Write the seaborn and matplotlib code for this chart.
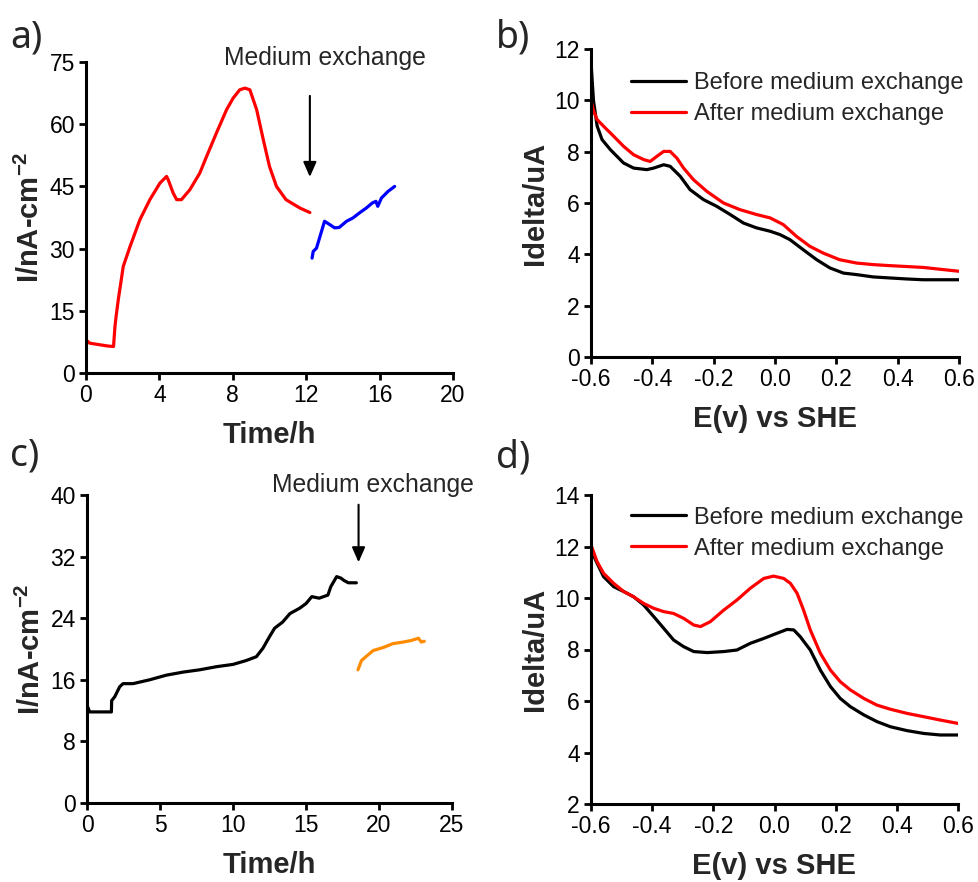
import numpy as np
import pandas as pd
import matplotlib
matplotlib.use("Agg")
import matplotlib.pyplot as plt
import seaborn as sns

# ---- data -------------------------------------------------------------
# (a) chronoamperometry, first run
a_before_t = [0.0, 0.2, 0.76, 1.2, 1.5, 1.58, 1.65, 1.76, 2.03, 2.4, 2.94, 3.48, 4.03, 4.39,
              4.48, 4.75, 4.94, 5.2, 5.66, 6.2, 6.57, 7.11, 7.66, 8.02, 8.38, 8.66, 8.93,
              9.3, 9.66, 10.0, 10.38, 10.9, 11.65, 12.2]
a_before_i = [8.0, 7.2, 6.8, 6.5, 6.4, 11.3, 14.0, 17.7, 25.7, 30.5, 37.0, 41.8, 45.8, 47.4,
              46.6, 43.4, 41.8, 41.8, 44.2, 48.2, 52.2, 57.9, 63.5, 66.3, 68.3, 68.7, 68.3,
              63.5, 56.3, 49.8, 45.0, 41.8, 39.8, 38.7]
a_after_t = [12.32, 12.38, 12.56, 13.0, 13.28, 13.55, 13.8, 14.2, 14.55, 14.9, 15.28, 15.6,
             15.8, 15.9, 16.1, 16.46, 16.82]
a_after_i = [27.7, 29.3, 30.1, 36.6, 35.8, 35.0, 35.1, 36.6, 37.4, 38.6, 39.8, 41.0,
             41.4, 40.2, 42.2, 43.8, 45.0]

# (b) DPV, first run
b_before_e = [-0.6, -0.592, -0.58, -0.564, -0.537, -0.494, -0.461, -0.418, -0.396, -0.363,
              -0.342, -0.309, -0.277, -0.233, -0.19, -0.146, -0.103, -0.06, -0.016, 0.016,
              0.049, 0.092, 0.136, 0.179, 0.223, 0.266, 0.32, 0.374, 0.43, 0.483, 0.6]
b_before_i = [11.5, 10.0, 9.0, 8.47, 8.08, 7.56, 7.36, 7.3, 7.36, 7.49,
              7.43, 7.04, 6.52, 6.13, 5.87, 5.55, 5.22, 5.03, 4.9, 4.77,
              4.57, 4.18, 3.79, 3.47, 3.27, 3.21, 3.12, 3.08, 3.04, 3.01, 3.01]
b_after_e = [-0.6, -0.592, -0.58, -0.559, -0.526, -0.494, -0.461, -0.428, -0.407, -0.385,
             -0.363, -0.342, -0.32, -0.298, -0.266, -0.222, -0.168, -0.114, -0.06, -0.016,
             0.027, 0.07, 0.114, 0.157, 0.211, 0.266, 0.32, 0.374, 0.483, 0.6]
b_after_i = [10.0, 9.6, 9.25, 8.99, 8.6, 8.21, 7.88, 7.69, 7.62, 7.82,
             8.01, 8.01, 7.75, 7.36, 6.91, 6.45, 6.0, 5.74, 5.55, 5.42,
             5.16, 4.7, 4.31, 4.05, 3.79, 3.66, 3.6, 3.56, 3.49, 3.34]

# (c) chronoamperometry, second run
c_before_t = [0.0, 0.18, 0.8, 1.67, 1.69, 1.9, 2.24, 2.47, 3.15, 4.29, 5.43, 6.58, 7.72,
              8.86, 10.0, 10.9, 11.6, 12.05, 12.5, 12.85, 13.4, 13.9, 14.57, 15.0, 15.4,
              15.9, 16.5, 16.7, 17.1, 17.4, 17.6, 17.9, 18.45]
c_before_i = [12.7, 11.83, 11.83, 11.83, 13.3, 13.8, 15.1, 15.5, 15.5, 16.0, 16.6, 17.0, 17.3,
              17.7, 18.0, 18.5, 19.0, 20.1, 21.6, 22.7, 23.5, 24.6, 25.3, 25.9, 26.8,
              26.6, 27.0, 28.1, 29.4, 29.2, 28.9, 28.6, 28.6]
c_after_t = [18.56, 18.8, 19.1, 19.6, 20.3, 20.96, 21.65, 22.2, 22.7, 22.9, 23.1]
c_after_i = [17.3, 18.5, 19.0, 19.8, 20.2, 20.7, 20.9, 21.1, 21.4, 20.9, 21.0]

# (d) DPV, second run
d_before_e = [-0.6, -0.58, -0.559, -0.526, -0.493, -0.461, -0.428, -0.395, -0.362, -0.33,
              -0.297, -0.264, -0.22, -0.166, -0.123, -0.079, -0.035, 0.008, 0.041, 0.063,
              0.084, 0.117, 0.15, 0.183, 0.215, 0.248, 0.292, 0.335, 0.379, 0.433, 0.488,
              0.542, 0.6]
d_before_i = [11.86, 11.35, 10.83, 10.44, 10.25, 10.05, 9.73, 9.28, 8.82, 8.37,
              8.11, 7.92, 7.88, 7.92, 7.98, 8.24, 8.43, 8.63, 8.78, 8.76,
              8.5, 7.98, 7.2, 6.56, 6.1, 5.78, 5.46, 5.2, 5.0, 4.85, 4.74,
              4.68, 4.68]
d_after_e = [-0.6, -0.58, -0.559, -0.526, -0.493, -0.461, -0.428, -0.395, -0.362, -0.33,
             -0.297, -0.264, -0.242, -0.21, -0.166, -0.123, -0.079, -0.035, -0.003, 0.03,
             0.052, 0.074, 0.095, 0.117, 0.15, 0.183, 0.215, 0.248, 0.292, 0.335, 0.379,
             0.433, 0.488, 0.542, 0.6]
d_after_i = [12.06, 11.41, 10.96, 10.57, 10.25, 10.05, 9.79, 9.6, 9.47, 9.4,
             9.21, 8.95, 8.89, 9.08, 9.53, 9.92, 10.38, 10.76, 10.85, 10.76,
             10.57, 10.18, 9.53, 8.76, 7.85, 7.2, 6.75, 6.43, 6.1, 5.84, 5.68,
             5.52, 5.39, 5.26, 5.13]

panel_letters = ["a)", "b)", "c)", "d)"]
legend_labels = ["Before medium exchange", "After medium exchange"]
note_text = "Medium exchange"

# ---- style ------------------------------------------------------------
sns.set_style("ticks")
plt.rcParams["font.family"] = ["Liberation Sans", "DejaVu Sans"]
plt.rcParams["axes.unicode_minus"] = False
plt.rcParams["mathtext.fontset"] = "custom"
plt.rcParams["mathtext.rm"] = "Liberation Sans"
plt.rcParams["mathtext.bf"] = "Liberation Sans:bold"

TICK_FS = 16.5
LABEL_FS = 21
LW = 2.3

fig = plt.figure(figsize=(9.79, 8.82), dpi=100)
W, H = 979, 882


def add_axes(l, t, r, b):
    return fig.add_axes([l / W, 1 - b / H, (r - l) / W, (b - t) / H])


ax_a = add_axes(86, 62, 453, 373)
ax_b = add_axes(591, 49, 959, 357)
ax_c = add_axes(87, 495, 452, 803)
ax_d = add_axes(591, 495, 958, 804)


def line(ax, x, y, color, label=None):
    df = pd.DataFrame({"x": x, "y": y})
    sns.lineplot(data=df, x="x", y="y", ax=ax, color=color, lw=LW, label=label,
                 estimator=None, sort=False, legend=False)


def style(ax, xlim, xticks, ylim, yticks, xlabel, ylabel, xfmt=None):
    ax.set_xlim(*xlim)
    ax.set_ylim(*ylim)
    ax.set_xticks(xticks)
    ax.set_yticks(yticks)
    if xfmt:
        ax.set_xticklabels([xfmt.format(v) for v in xticks])
    sns.despine(ax=ax)
    for s in ("left", "bottom"):
        ax.spines[s].set_linewidth(2.2)
        ax.spines[s].set_color("black")
    ax.tick_params(axis="both", direction="out", length=5, width=2,
                   labelsize=TICK_FS, colors="black", pad=3)
    ax.set_xlabel(xlabel, fontsize=LABEL_FS, fontweight="bold")
    ax.set_ylabel(ylabel, fontsize=LABEL_FS, fontweight="bold")
    ax.xaxis.label.set_va("center")
    ax.yaxis.label.set_va("center")
    bb = ax.get_position()
    ax.xaxis.set_label_coords(0.5, -62 / (bb.height * H))
    ax.yaxis.set_label_coords(-56 / (bb.width * W), 0.5)


# (a)
line(ax_a, a_before_t, a_before_i, "#ff0000")
line(ax_a, a_after_t, a_after_i, "#0000ff")
style(ax_a, (0, 20), [0, 4, 8, 12, 16, 20], (0, 75), [0, 15, 30, 45, 60, 75],
      "Time/h", r"I/nA-cm$^{\mathbf{-2}}$")
ax_a.annotate("", xy=(12.2, 46.6), xytext=(12.2, 67.5),
              arrowprops=dict(arrowstyle="-|>,head_length=0.5,head_width=0.22",
                              color="black", lw=1.5, mutation_scale=18))
ax_a.text(13.0, 76.0, note_text, ha="center", va="center", fontsize=17.8, clip_on=False)

# (b)
line(ax_b, b_before_e, b_before_i, "#000000", legend_labels[0])
line(ax_b, b_after_e, b_after_i, "#ff0000", legend_labels[1])
style(ax_b, (-0.6, 0.6), [-0.6, -0.4, -0.2, 0.0, 0.2, 0.4, 0.6], (0, 12),
      [0, 2, 4, 6, 8, 10, 12], "E(v) vs SHE", "Idelta/uA", "{:.1f}")

# (c)
line(ax_c, c_before_t, c_before_i, "#000000")
line(ax_c, c_after_t, c_after_i, "#ff8c00")
style(ax_c, (0, 25), [0, 5, 10, 15, 20, 25], (0, 40), [0, 8, 16, 24, 32, 40],
      "Time/h", r"I/nA-cm$^{\mathbf{-2}}$")
ax_c.annotate("", xy=(18.6, 30.9), xytext=(18.6, 39.1),
              arrowprops=dict(arrowstyle="-|>,head_length=0.5,head_width=0.22",
                              color="black", lw=1.5, mutation_scale=18))
ax_c.text(19.6, 41.3, note_text, ha="center", va="center", fontsize=17.8, clip_on=False)

# (d)
line(ax_d, d_before_e, d_before_i, "#000000", legend_labels[0])
line(ax_d, d_after_e, d_after_i, "#ff0000", legend_labels[1])
style(ax_d, (-0.6, 0.6), [-0.6, -0.4, -0.2, 0.0, 0.2, 0.4, 0.6], (2, 14),
      [2, 4, 6, 8, 10, 12, 14], "E(v) vs SHE", "Idelta/uA", "{:.1f}")

for ax, top in ((ax_b, 0.925), (ax_d, 0.962)):
    ax.legend(loc="upper left", bbox_to_anchor=(0.11, top), frameon=False,
              fontsize=17, handlelength=2.3, handletextpad=0.35,
              labelspacing=0.38, borderpad=0, borderaxespad=0)

# panel letters
for txt, (x, y) in zip(panel_letters, [(10, 38), (496, 38), (10, 455), (496, 457)]):
    fig.text(x / W, 1 - y / H, txt, fontsize=27, family=["Noto Sans", "DejaVu Sans"],
             ha="left", va="center")

fig.savefig("out.png", dpi=100)
